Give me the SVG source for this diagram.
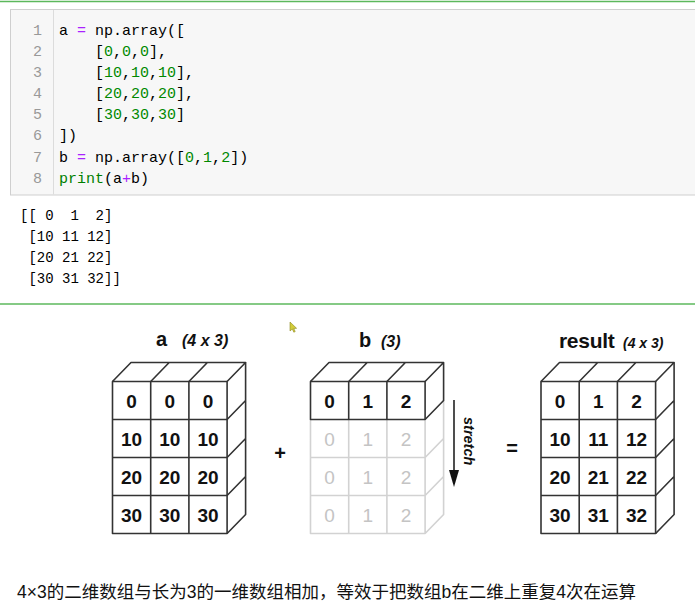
<svg xmlns="http://www.w3.org/2000/svg" width="695" height="615" viewBox="0 0 695 615">
<style>
.code{font-family:"Liberation Mono",monospace;font-size:15px;fill:#000;white-space:pre}
.ln{font-family:"Liberation Mono",monospace;font-size:15px;fill:#999;text-anchor:end}
.num{fill:#008800}
.op{fill:#AA22FF}
.kw{fill:#008000}
.out{font-family:"Liberation Mono",monospace;font-size:14px;fill:#000;white-space:pre}
.edge{fill:none;stroke:#333;stroke-width:1.6;stroke-linejoin:round}
.ledge{fill:none;stroke:#d2d2d2;stroke-width:1.6;stroke-linejoin:round}
.cell{font-family:"Liberation Sans",Arial,sans-serif;font-size:19px;font-weight:bold;fill:#111;text-anchor:middle}
.lcell{font-family:"Liberation Sans",Arial,sans-serif;font-size:19px;fill:#c4c4c4;text-anchor:middle}
.lbl{font-family:"Liberation Sans",Arial,sans-serif;font-weight:bold;fill:#111}
.it{font-style:italic}
.cap{font-family:"Liberation Sans","Noto Sans CJK SC",sans-serif;font-size:17.5px;fill:#111}
</style>
<rect width="695" height="615" fill="#fff"/>
<line x1="0" y1="1.5" x2="695" y2="1.5" stroke="#5cb85c" stroke-width="1.5"/>
<g id="code-cell">
<rect x="10.5" y="9.5" width="700" height="185.5" fill="#f7f7f7" stroke="#cfcfcf"/>
<line x1="53.5" y1="10" x2="53.5" y2="194.5" stroke="#dcdcdc"/>
<text class="ln" x="42" y="35">1</text>
<text class="ln" x="42" y="56">2</text>
<text class="ln" x="42" y="77">3</text>
<text class="ln" x="42" y="98">4</text>
<text class="ln" x="42" y="119">5</text>
<text class="ln" x="42" y="140">6</text>
<text class="ln" x="42" y="162">7</text>
<text class="ln" x="42" y="183">8</text>
<text class="code" x="59" y="35">a <tspan class="op">=</tspan> np.array([</text>
<text class="code" x="59" y="56">    [<tspan class="num">0</tspan>,<tspan class="num">0</tspan>,<tspan class="num">0</tspan>],</text>
<text class="code" x="59" y="77">    [<tspan class="num">10</tspan>,<tspan class="num">10</tspan>,<tspan class="num">10</tspan>],</text>
<text class="code" x="59" y="98">    [<tspan class="num">20</tspan>,<tspan class="num">20</tspan>,<tspan class="num">20</tspan>],</text>
<text class="code" x="59" y="119">    [<tspan class="num">30</tspan>,<tspan class="num">30</tspan>,<tspan class="num">30</tspan>]</text>
<text class="code" x="59" y="140">])</text>
<text class="code" x="59" y="162">b <tspan class="op">=</tspan> np.array([<tspan class="num">0</tspan>,<tspan class="num">1</tspan>,<tspan class="num">2</tspan>])</text>
<text class="code" x="59" y="183"><tspan class="kw">print</tspan>(a<tspan class="op">+</tspan>b)</text>
</g>
<g id="output">
<text class="out" x="20" y="220">[[ 0  1  2]</text>
<text class="out" x="20" y="241"> [10 11 12]</text>
<text class="out" x="20" y="262"> [20 21 22]</text>
<text class="out" x="20" y="283"> [30 31 32]]</text>
</g>
<line x1="0" y1="304" x2="695" y2="304" stroke="#5cb85c" stroke-width="1.5"/>
<path d="M290,322 L290,331 L292.3,329 L293.8,332.2 L295.2,331.6 L293.8,328.5 L296.6,328.3 Z" fill="#d2cc3a" stroke="#8f8a22" stroke-width="0.6"/>
<g id="array-a">
<text class="lbl" x="156" y="346" font-size="20">a</text>
<text class="lbl it" x="182" y="346" font-size="16">(4 x 3)</text>
<path class="edge" fill="#fff" d="M112.5,381.5 H227.1 V533.5 H112.5 Z M150.7,381.5 V533.5 M188.9,381.5 V533.5 M112.5,419.5 H227.1 M112.5,457.5 H227.1 M112.5,495.5 H227.1"/>
<path class="edge" d="M112.5,381.5 L131,362.5 H245.6 L227.1,381.5 M150.7,381.5 L169.2,362.5 M188.9,381.5 L207.4,362.5"/>
<path class="edge" d="M245.6,362.5 V514.5 L227.1,533.5 M227.1,419.5 L245.6,400.5 M227.1,457.5 L245.6,438.5 M227.1,495.5 L245.6,476.5"/>
<text class="cell" x="131.6" y="407.5">0</text><text class="cell" x="169.8" y="407.5">0</text><text class="cell" x="208" y="407.5">0</text>
<text class="cell" x="131.6" y="445.5">10</text><text class="cell" x="169.8" y="445.5">10</text><text class="cell" x="208" y="445.5">10</text>
<text class="cell" x="131.6" y="483.5">20</text><text class="cell" x="169.8" y="483.5">20</text><text class="cell" x="208" y="483.5">20</text>
<text class="cell" x="131.6" y="521.5">30</text><text class="cell" x="169.8" y="521.5">30</text><text class="cell" x="208" y="521.5">30</text>
</g>
<g id="plus"><text class="lbl" x="280" y="460" font-size="20" text-anchor="middle">+</text></g>
<g id="array-b">
<text class="lbl" x="359" y="347" font-size="20">b</text>
<text class="lbl it" x="381" y="347" font-size="16">(3)</text>
<path class="ledge" d="M310.5,419.5 V533.5 H425.1 V419.5 M348.7,419.5 V533.5 M386.9,419.5 V533.5 M310.5,457.5 H425.1 M310.5,495.5 H425.1 M443.6,400.5 V514.5 L425.1,533.5 M425.1,457.5 L443.6,438.5 M425.1,495.5 L443.6,476.5"/>
<path class="edge" d="M310.5,381.5 H425.1 V419.5 H310.5 Z M348.7,381.5 V419.5 M386.9,381.5 V419.5"/>
<path class="edge" d="M310.5,381.5 L329,362.5 H443.6 L425.1,381.5 M348.7,381.5 L367.2,362.5 M386.9,381.5 L405.4,362.5 M443.6,362.5 V400.5 L425.1,419.5"/>
<text class="cell" x="329.6" y="407.5">0</text><text class="cell" x="367.8" y="407.5">1</text><text class="cell" x="406" y="407.5">2</text>
<text class="lcell" x="329.6" y="445.5">0</text><text class="lcell" x="367.8" y="445.5">1</text><text class="lcell" x="406" y="445.5">2</text>
<text class="lcell" x="329.6" y="483.5">0</text><text class="lcell" x="367.8" y="483.5">1</text><text class="lcell" x="406" y="483.5">2</text>
<text class="lcell" x="329.6" y="521.5">0</text><text class="lcell" x="367.8" y="521.5">1</text><text class="lcell" x="406" y="521.5">2</text>
</g>
<g id="connectors">
<line x1="454" y1="400" x2="454" y2="474" stroke="#222" stroke-width="1.6"/>
<polygon points="449,470 459,470 454,487" fill="#111"/>
<text class="lbl it" font-size="14.5" transform="translate(464,417) rotate(90)">stretch</text>
</g>
<g id="equals"><text class="lbl" x="512" y="455" font-size="20" text-anchor="middle">=</text></g>
<g id="result">
<text class="lbl" x="559" y="348" font-size="21" letter-spacing="-0.3">result</text>
<text class="lbl it" x="623" y="348" font-size="14">(4 x 3)</text>
<path class="edge" fill="#fff" d="M541,381.5 H655.6 V533.5 H541 Z M579.2,381.5 V533.5 M617.4,381.5 V533.5 M541,419.5 H655.6 M541,457.5 H655.6 M541,495.5 H655.6"/>
<path class="edge" d="M541,381.5 L559.5,362.5 H674.1 L655.6,381.5 M579.2,381.5 L597.7,362.5 M617.4,381.5 L635.9,362.5"/>
<path class="edge" d="M674.1,362.5 V514.5 L655.6,533.5 M655.6,419.5 L674.1,400.5 M655.6,457.5 L674.1,438.5 M655.6,495.5 L674.1,476.5"/>
<text class="cell" x="560.1" y="407.5">0</text><text class="cell" x="598.3" y="407.5">1</text><text class="cell" x="636.5" y="407.5">2</text>
<text class="cell" x="560.1" y="445.5">10</text><text class="cell" x="598.3" y="445.5">11</text><text class="cell" x="636.5" y="445.5">12</text>
<text class="cell" x="560.1" y="483.5">20</text><text class="cell" x="598.3" y="483.5">21</text><text class="cell" x="636.5" y="483.5">22</text>
<text class="cell" x="560.1" y="521.5">30</text><text class="cell" x="598.3" y="521.5">31</text><text class="cell" x="636.5" y="521.5">32</text>
</g>
<g id="caption"><text class="cap" x="17" y="598">4×3的二维数组与长为3的一维数组相加，等效于把数组b在二维上重复4次在运算</text></g>
</svg>
